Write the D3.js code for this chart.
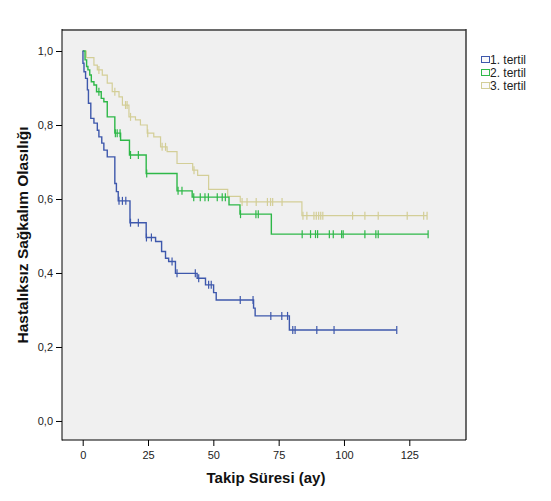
<!DOCTYPE html>
<html><head><meta charset="utf-8">
<script src="https://cdn.jsdelivr.net/npm/d3@7"></script>
<style>body{margin:0;background:#fff}svg{display:block}text{font-family:Arial,"Liberation Sans",sans-serif}</style>
</head><body><svg id="c" width="551" height="501"></svg>
<script>
const seriesNames = ["1. tertil", "2. tertil", "3. tertil"];
const seriesColors = ["#3E58AC", "#2EB848", "#D3CE97"];
const xTicks = [0, 25, 50, 75, 100, 125];
const yTicks = [0, 0.2, 0.4, 0.6, 0.8, 1.0];

const blueTimes = [0.1,0.5,1.1,1.8,2.2,3.1,4.3,5.6,6.2,7.3,8.1,9.4,12.3,12.9,13.6,18.1,24.3,27.9,30.2,31.7,32.9,35.5,43.8,47,50.1,51.1,65.4,66,79.1];
const blueSurv = [0.967,0.944,0.926,0.895,0.859,0.818,0.805,0.786,0.768,0.751,0.732,0.714,0.642,0.620,0.595,0.536,0.496,0.485,0.458,0.44,0.431,0.399,0.386,0.368,0.347,0.327,0.305,0.284,0.246];
const blueCens = [13.9,15.2,16.5,18.3,21.3,24.4,26.3,34.2,36.1,43.1,44.4,48.2,49.2,60.3,65.2,72,76.2,78.4,80.4,81.3,89.6,96.2,120.2];

const greenTimes = [0.9,1.5,2.0,2.7,3.3,4.3,5.3,7.1,8.1,9.4,12.3,14.5,17.9,24.3,36.1,41.9,56,60.2,72.2];
const greenSurv = [0.976,0.958,0.949,0.935,0.917,0.908,0.890,0.872,0.863,0.822,0.778,0.759,0.719,0.669,0.622,0.605,0.584,0.559,0.505];
const greenCens = [6.2,12.5,13.2,14.3,18.3,21.3,24.5,36.5,38.0,42.5,45,46.8,48.1,51.5,53.4,54.6,60.4,66.3,67.2,84,87.2,89.1,89.9,94.4,95.9,99.1,99.7,108,112.2,113.1,132.2];

const tanTimes = [1.4,4.3,5.6,7.5,9.4,11.3,13.9,15.2,17.7,20.2,22.1,24.7,27.2,29.8,32.3,36.1,42.1,44,48.2,55.5,60.3,83.9];
const tanSurv = [0.982,0.962,0.949,0.935,0.913,0.890,0.876,0.854,0.822,0.814,0.80,0.778,0.768,0.741,0.728,0.696,0.678,0.664,0.626,0.607,0.592,0.555];
const tanCens = [6.2,12.3,16.4,17.0,18.3,24.9,30.4,31.7,42.6,61,62.9,66.4,70.7,71.9,72.7,76.3,84.3,85.8,88.5,89.4,90.3,91.1,91.9,103.3,108,113.1,124.2,130.5,131.8];

const series = [
  {times: blueTimes, surv: blueSurv, cens: blueCens},
  {times: greenTimes, surv: greenSurv, cens: greenCens},
  {times: tanTimes, surv: tanSurv, cens: tanCens}
];

const L = 62, T = 30, R = 466, B = 440;
const x = d3.scaleLinear().domain([-7.92, 146.7]).range([L, R]);
const y = d3.scaleLinear().domain([-0.0514, 1.0568]).range([B, T]);

const svg = d3.select("#c");
svg.append("rect").attr("x", L).attr("y", T).attr("width", R - L).attr("height", B - T).attr("fill", "#F0F0F0");

function survAt(s, t) {
  let v = 1;
  for (let i = 0; i < s.times.length; i++) if (s.times[i] <= t) v = s.surv[i];
  return v;
}

const line = d3.line().x(d => x(d[0])).y(d => y(d[1])).curve(d3.curveStepAfter);
[2, 1, 0].forEach(k => {
  const s = series[k];
  const tEnd = Math.max(d3.max(s.cens), d3.max(s.times));
  const pts = [[0, 1]].concat(s.times.map((t, i) => [t, s.surv[i]]));
  pts.push([tEnd, s.surv[s.surv.length - 1]]);
  const g = svg.append("g");
  g.append("path").attr("d", line(pts)).attr("fill", "none")
    .attr("stroke", seriesColors[k]).attr("stroke-width", k === 2 ? 1.2 : 1.4);
  g.selectAll("line.c").data(s.cens).enter().append("line")
    .attr("x1", d => x(d)).attr("x2", d => x(d))
    .attr("y1", d => y(survAt(s, d)) - 4).attr("y2", d => y(survAt(s, d)) + 4)
    .attr("stroke", seriesColors[k]).attr("stroke-width", 1.2);
});

svg.append("line").attr("x1", L).attr("x2", R).attr("y1", T).attr("y2", T).attr("stroke", "#6a6a6a").attr("stroke-width", 2);
svg.append("line").attr("x1", R).attr("x2", R).attr("y1", T - 1).attr("y2", B).attr("stroke", "#3a3a3a").attr("stroke-width", 1.5);
svg.append("line").attr("x1", L).attr("x2", L).attr("y1", T - 1).attr("y2", B + 0.5).attr("stroke", "#000").attr("stroke-width", 1);
svg.append("line").attr("x1", L).attr("x2", R).attr("y1", B).attr("y2", B).attr("stroke", "#000").attr("stroke-width", 1);

const fmt = d => d3.format(".1f")(d).replace(".", ",");
const ya = svg.append("g").attr("transform", `translate(${L},0)`)
  .call(d3.axisLeft(y).tickValues(yTicks).tickFormat(fmt).tickSize(6).tickPadding(3));
ya.select(".domain").remove();
ya.selectAll("text").attr("font-size", 11).attr("fill", "#222").style("font-family", "Arial, 'Liberation Sans', sans-serif");
ya.selectAll("line").attr("stroke", "#000");

const xa = svg.append("g").attr("transform", `translate(0,${B})`)
  .call(d3.axisBottom(x).tickValues(xTicks).tickFormat(d3.format("d")).tickSize(6).tickPadding(5));
xa.select(".domain").remove();
xa.selectAll("text").attr("font-size", 11).attr("fill", "#222").style("font-family", "Arial, 'Liberation Sans', sans-serif");
xa.selectAll("line").attr("stroke", "#000");

svg.append("text").attr("x", 266).attr("y", 483).attr("text-anchor", "middle")
  .attr("font-size", 15).attr("font-weight", "bold").attr("fill", "#111").text("Takip Süresi (ay)");
svg.append("text").attr("transform", `translate(28,${(T + B) / 2}) rotate(-90)`).attr("text-anchor", "middle")
  .attr("font-size", 15.5).attr("font-weight", "bold").attr("fill", "#111").text("Hastalıksız Sağkalım Olasılığı");

const lg = svg.append("g");
seriesNames.forEach((n, i) => {
  const yy = 60 + i * 13;
  lg.append("rect").attr("x", 481.5).attr("y", yy - 3.5).attr("width", 8).attr("height", 6)
    .attr("fill", "#fafafa").attr("stroke", seriesColors[i]).attr("stroke-width", 1);
  lg.append("text").attr("x", 490).attr("y", yy + 4).attr("font-size", 12).attr("fill", "#222").text(n);
});
</script></body></html>
